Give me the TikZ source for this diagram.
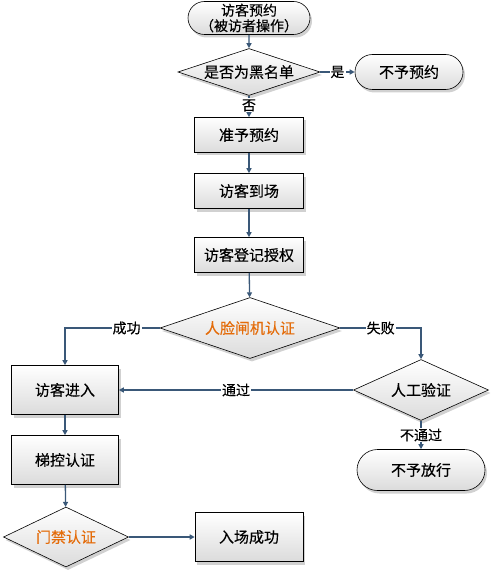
\documentclass[tikz,border=0pt]{standalone}
\usepackage{fontspec}
\setmainfont[FakeBold=0.4]{Noto Sans CJK SC}
\usetikzlibrary{shapes.geometric,shapes.misc,arrows.meta,shadows}
\definecolor{edgec}{HTML}{3A5878}
\definecolor{orangec}{HTML}{E46C0A}
\tikzset{
  base/.style={draw=black, line width=0.6pt, top color=white, bottom color=black!14,
    inner sep=0pt, font=\fontsize{15}{18}\selectfont,
    drop shadow={shadow xshift=2pt, shadow yshift=-3pt, fill=black, opacity=0.18}},
  stepbox/.style={base, rectangle},
  term/.style={base, rounded rectangle},
  dec/.style={base, diamond},
  conn/.style={draw=edgec, line width=1.3pt, -{Triangle[length=5pt,width=5pt]}},
  lbl/.style={fill=white, inner sep=1pt, font=\fontsize{14}{16}\selectfont, text=black}
}
\begin{document}
\begin{tikzpicture}[x=1pt,y=-1pt]
\useasboundingbox[fill=white] (0,0) rectangle (490,572);
% nodes
\node[term, minimum width=122pt, minimum height=33pt, align=center,
  font=\fontsize{14}{15.5}\selectfont] (t1) at (249,18) {访客预约\\（被访者操作）};
\node[dec, minimum width=142pt, minimum height=47pt, aspect=3] (d1) at (249,72) {是否为黑名单};
\node[term, minimum width=108pt, minimum height=35pt] (t2) at (409,72) {不予预约};
\node[stepbox, minimum width=109pt, minimum height=35pt] (b1) at (249,135) {准予预约};
\node[stepbox, minimum width=109pt, minimum height=35pt] (b2) at (249,191) {访客到场};
\node[stepbox, minimum width=109pt, minimum height=35pt] (b3) at (249,255) {访客登记授权};
\node[dec, minimum width=180pt, minimum height=61pt, aspect=3, text=orangec] (d2) at (250,328) {人脸闸机认证};
\node[stepbox, minimum width=107pt, minimum height=49pt] (b4) at (65,390) {访客进入};
\node[dec, minimum width=135pt, minimum height=61pt, aspect=2.2] (d3) at (421,390) {人工验证};
\node[term, minimum width=128pt, minimum height=41pt] (t3) at (421,470) {不予放行};
\node[stepbox, minimum width=107pt, minimum height=49pt] (b5) at (65,460) {梯控认证};
\node[dec, minimum width=125pt, minimum height=60pt, aspect=2.1, text=orangec] (d4) at (66,537) {门禁认证};
\node[stepbox, minimum width=108pt, minimum height=49pt] (b6) at (249,537) {入场成功};
% connectors
\draw[conn] (t1) -- (d1);
\draw[conn] (d1) -- node[lbl]{是} (t2);
\draw[conn] (d1) -- node[lbl, pos=0.45]{否} (b1);
\draw[conn] (b1) -- (b2);
\draw[conn] (b2) -- (b3);
\draw[conn] (b3) -- (d2);
\draw[conn] (d2.west) -| node[lbl, pos=0.175]{成功} (b4.north);
\draw[conn] (d2.east) -| node[lbl, pos=0.25]{失败} (d3.north);
\draw[conn] (d3.west) -- node[lbl, pos=0.5]{通过} (b4.east);
\draw[conn] (d3.south) -- node[lbl, pos=0.5]{不通过} (t3.north);
\draw[conn] (b4) -- (b5);
\draw[conn] (b5) -- (d4);
\draw[conn] (d4.east) -- (b6.west);
\end{tikzpicture}
\end{document}
